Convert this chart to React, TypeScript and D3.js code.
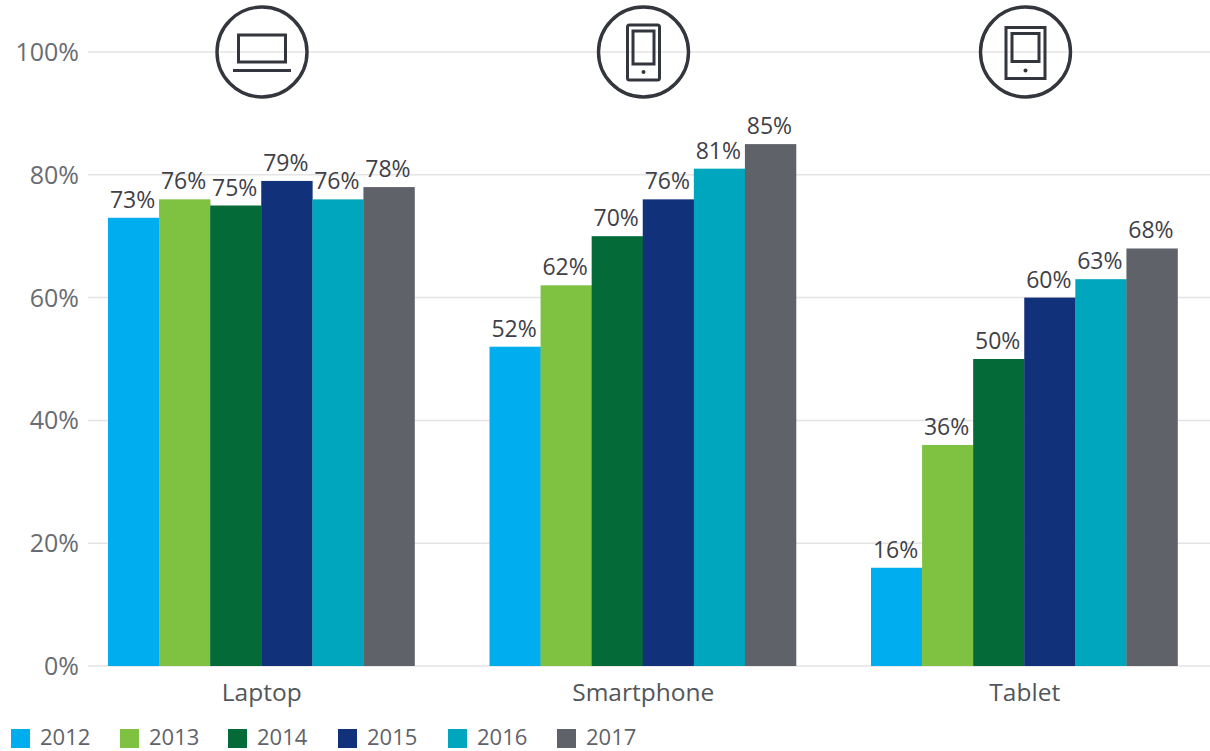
import React from "react";
import * as d3 from "d3";

const categories = ["Laptop", "Smartphone", "Tablet"];
const years = ["2012", "2013", "2014", "2015", "2016", "2017"];
const colors = ["#00ADEF", "#7FC241", "#046A38", "#12317B", "#00A6BD", "#5F6369"];
const laptop = [73, 76, 75, 79, 76, 78];
const smartphone = [52, 62, 70, 76, 81, 85];
const tablet = [16, 36, 50, 60, 63, 68];
const groupValues = [laptop, smartphone, tablet];
const yTicks = [0, 20, 40, 60, 80, 100];
const legendX = [11, 120, 228, 338, 448, 557];

const font = "'Open Sans', sans-serif";
const ink = "#33363C";

function LaptopIcon() {
  return (
    <g fill="none" stroke={ink} strokeWidth={3}>
      <circle cx={262} cy={52} r={45} strokeWidth={3.4} />
      <rect x={238.5} y={35} width={47} height={27} />
      <line x1={233} x2={291} y1={70.5} y2={70.5} strokeWidth={3} />
    </g>
  );
}
function PhoneIcon() {
  return (
    <g fill="none" stroke={ink} strokeWidth={3}>
      <circle cx={643.5} cy={52} r={45} strokeWidth={3.4} />
      <rect x={627.5} y={25} width={32} height={55} rx={2} />
      <rect x={633} y={31} width={21} height={33} />
      <circle cx={643.5} cy={72} r={2} fill={ink} stroke="none" />
    </g>
  );
}
function TabletIcon() {
  return (
    <g fill="none" stroke={ink} strokeWidth={3}>
      <circle cx={1025.5} cy={52} r={45} strokeWidth={3.4} />
      <rect x={1006} y={27.5} width={39} height={51} />
      <rect x={1012} y={33.5} width={27} height={28} />
      <circle cx={1025.5} cy={70.5} r={2} fill={ink} stroke="none" />
    </g>
  );
}

export default function App() {
  const y = d3.scaleLinear().domain([0, 100]).range([666, 52]);
  const x0 = d3.scaleBand<string>().domain(categories).range([108, 1177.5]).paddingInner(0.1966);
  const x1 = d3.scaleBand<string>().domain(years).range([0, x0.bandwidth()]);
  return (
    <svg
      width={1210}
      height={751}
      style={{ position: "absolute", left: 0, top: 0, background: "#fff" }}
      fontFamily={font}
    >
      {yTicks.map((t) => (
        <g key={t}>
          <line x1={88} x2={1210} y1={y(t)} y2={y(t)} stroke="#E4E4E4" strokeWidth={1.5} />
          <text x={79} y={y(t) + 9} textAnchor="end" fontSize={25} fill="#696C71">
            {t}%
          </text>
        </g>
      ))}
      {categories.map((c, i) => (
        <g key={c} transform={`translate(${x0(c)},0)`}>
          {groupValues[i].map((v, j) => (
            <g key={years[j]}>
              <rect
                x={x1(years[j])}
                y={y(v)}
                width={x1.bandwidth() + 0.3}
                height={y(0) - y(v)}
                fill={colors[j]}
              />
              <text
                x={(x1(years[j]) as number) + x1.bandwidth() / 2 - 1}
                y={y(v) - 10}
                textAnchor="middle"
                fontSize={23}
                fill="#3F4147"
              >
                {v}%
              </text>
            </g>
          ))}
          <text
            x={x0.bandwidth() / 2 + 0.5}
            y={701}
            textAnchor="middle"
            fontSize={24.5}
            fill="#53565A"
          >
            {c}
          </text>
        </g>
      ))}
      <LaptopIcon />
      <PhoneIcon />
      <TabletIcon />
      {years.map((yr, i) => (
        <g key={yr}>
          <rect x={legendX[i]} y={729} width={19} height={19} fill={colors[i]} />
          <text x={legendX[i] + 29} y={745} fontSize={22} fill="#5F6369">
            {yr}
          </text>
        </g>
      ))}
    </svg>
  );
}
